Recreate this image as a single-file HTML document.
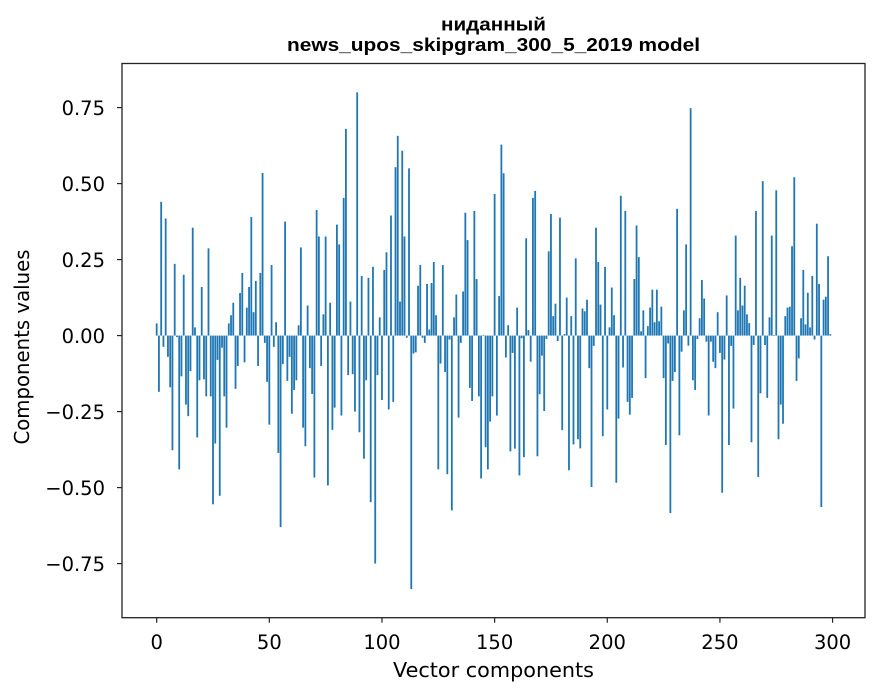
<!DOCTYPE html>
<html><head><meta charset="utf-8"><style>
body{margin:0;background:#fff;}
svg{display:block;font-family:"DejaVu Sans","Liberation Sans",sans-serif;}
</style></head><body>
<svg id="chart" width="880" height="696" xmlns="http://www.w3.org/2000/svg">
<rect width="880" height="696" fill="#fff"/>
<text x="493.5" y="30.5" text-anchor="middle" font-weight="bold" font-size="18" font-family="Liberation Sans, Arial, sans-serif" textLength="105" lengthAdjust="spacingAndGlyphs">ниданный</text>
<text x="493.5" y="51" text-anchor="middle" font-weight="bold" font-size="18" font-family="Liberation Sans, Arial, sans-serif" textLength="413" lengthAdjust="spacingAndGlyphs">news_upos_skipgram_300_5_2019 model</text>
<g id="bars"></g>
<g id="axes"></g>
<text x="493.5" y="677" text-anchor="middle" font-size="20" textLength="201" lengthAdjust="spacingAndGlyphs">Vector components</text>
<text x="0" y="0" transform="translate(29,347) rotate(-90)" text-anchor="middle" font-size="20" textLength="195" lengthAdjust="spacingAndGlyphs">Components values</text>
</svg>
<script>
const values = [
0.04,-0.185,0.44,-0.037,0.385,-0.07,-0.17,-0.377,0.236,-0.005,
-0.44,-0.134,0.2,-0.227,-0.265,-0.117,0.355,0.027,-0.335,-0.147,
0.16,-0.144,-0.2,0.287,-0.2,-0.555,-0.355,-0.08,-0.527,-0.04,
-0.2,-0.303,0.04,0.067,0.108,-0.175,-0.1,0.14,0.206,-0.088,
0.092,0.16,0.39,0.077,0.18,-0.1,0.206,0.535,-0.024,-0.152,
-0.293,0.232,-0.037,0.044,-0.386,-0.63,-0.094,0.375,-0.149,-0.07,
-0.257,-0.179,-0.147,0.034,0.29,-0.303,-0.364,0.099,-0.107,-0.192,
-0.467,0.413,0.326,-0.1,0.07,0.326,-0.493,0.108,-0.31,-0.237,
0.365,0.3,-0.263,0.453,0.68,-0.13,0.112,-0.127,-0.25,0.8,
-0.318,0.196,-0.405,-0.147,0.19,-0.548,0.226,-0.75,-0.13,0.06,
-0.212,0.216,0.274,-0.243,0.395,-0.218,0.554,0.657,0.112,0.608,
0.326,-0.007,0.55,-0.834,-0.059,-0.055,0.164,0.232,-0.007,-0.024,
0.17,0.02,0.173,0.242,0.067,-0.44,-0.092,0.232,-0.12,-0.456,
-0.013,-0.575,0.06,0.135,-0.27,-0.024,0.145,0.404,0.314,-0.172,
-0.215,0.41,0.186,-0.2,-0.47,0.002,-0.367,-0.44,-0.283,-0.2,
0.466,-0.263,0.13,0.628,0.534,-0.072,0.034,-0.381,-0.057,-0.372,
0.092,-0.46,-0.009,-0.4,0.32,0.018,-0.086,0.453,0.476,-0.397,
-0.193,-0.066,-0.248,-0.011,0.277,0.4,0.064,0.105,-0.018,0.388,
-0.311,0.005,0.125,-0.443,0.064,-0.358,0.254,-0.341,-0.371,0.089,
0.08,0.118,-0.107,-0.498,-0.034,0.355,0.242,0.102,-0.331,0.226,
-0.243,0.027,0.158,0.067,-0.484,-0.273,0.46,-0.105,0.41,-0.218,
-0.26,-0.205,0.186,0.362,0.258,0.014,0.083,-0.14,0.031,0.092,
0.151,0.044,0.151,0.047,0.095,-0.14,-0.36,-0.026,-0.584,-0.149,
-0.12,0.417,-0.328,-0.053,0.083,0.3,-0.033,0.748,-0.147,-0.179,
-0.011,0.057,0.183,0.122,-0.02,-0.263,-0.02,-0.086,-0.107,0.077,
-0.057,-0.517,-0.079,0.132,-0.36,-0.034,-0.24,0.329,0.083,0.19,
0.099,0.164,0.07,0.041,-0.351,-0.031,0.41,-0.465,-0.19,0.508,
-0.031,-0.205,0.06,0.329,0.002,0.478,-0.341,-0.227,-0.29,0.064,
0.092,0.095,0.294,0.521,-0.149,-0.075,0.057,0.216,0.037,0.141,
0.027,0.196,-0.013,0.368,0.17,-0.564,0.118,0.128,0.261,0.005
];
const xTicks = [0,50,100,150,200,250,300];
const yTicks = [-0.75,-0.5,-0.25,0,0.25,0.5,0.75];
const yTickLabels = ["\u22120.75","\u22120.50","\u22120.25","0.00","0.25","0.50","0.75"];

const L=122,R=865,T=63.5,B=617.7;
const xMin=-15.39,xMax=314.39,yMin=-0.928,yMax=0.895;
function xs(v){return L+(v-xMin)/(xMax-xMin)*(R-L);}
function ys(v){return B-(v-yMin)/(yMax-yMin)*(B-T);}
const NS="http://www.w3.org/2000/svg";
const bars=document.getElementById('bars');
values.forEach((v,i)=>{
  const r=document.createElementNS(NS,'rect');
  const x0=xs(i-0.4),x1=xs(i+0.4);
  const y0=ys(Math.max(v,0)),y1=ys(Math.min(v,0));
  r.setAttribute('x',x0);r.setAttribute('width',x1-x0);
  r.setAttribute('y',y0);r.setAttribute('height',Math.max(y1-y0,0.3));
  r.setAttribute('fill','#1f77b4');
  
  
  bars.appendChild(r);
});
const ax=document.getElementById('axes');
const frame=document.createElementNS(NS,'rect');
frame.setAttribute('x',L);frame.setAttribute('y',T);frame.setAttribute('width',R-L);frame.setAttribute('height',B-T);
frame.setAttribute('fill','none');frame.setAttribute('stroke','#222');frame.setAttribute('stroke-width','1.3');


ax.appendChild(frame);
xTicks.forEach(t=>{
  const x=xs(t);
  const l=document.createElementNS(NS,'line');
  l.setAttribute('x1',x);l.setAttribute('x2',x);l.setAttribute('y1',B);l.setAttribute('y2',B+5);
  l.setAttribute('stroke','#222');l.setAttribute('stroke-width','1.2');
  
  
  ax.appendChild(l);
  const tx=document.createElementNS(NS,'text');
  tx.setAttribute('x',x);tx.setAttribute('y',649);tx.setAttribute('text-anchor','middle');tx.setAttribute('font-size','19.5');
  tx.textContent=t;
  
  
  ax.appendChild(tx);
});
yTicks.forEach((t,i)=>{
  const y=ys(t);
  const l=document.createElementNS(NS,'line');
  l.setAttribute('x1',L-5);l.setAttribute('x2',L);l.setAttribute('y1',y);l.setAttribute('y2',y);
  l.setAttribute('stroke','#222');l.setAttribute('stroke-width','1.2');
  
  
  ax.appendChild(l);
  const tx=document.createElementNS(NS,'text');
  tx.setAttribute('x',105);tx.setAttribute('y',y+7.5);tx.setAttribute('text-anchor','end');tx.setAttribute('font-size','19.5');
  tx.textContent=yTickLabels[i];
  
  
  ax.appendChild(tx);
});
</script>
</body></html>
